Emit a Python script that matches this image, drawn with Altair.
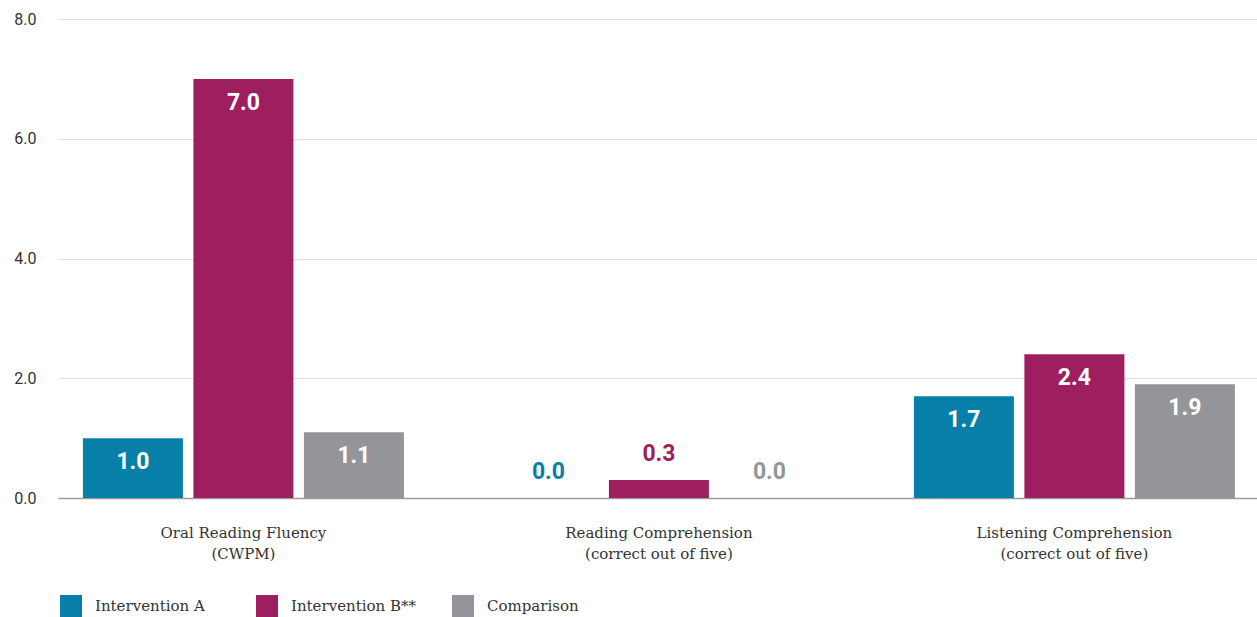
import altair as alt
import pandas as pd

categories = [
    "Oral Reading Fluency\n(CWPM)",
    "Reading Comprehension\n(correct out of five)",
    "Listening Comprehension\n(correct out of five)",
]
series = ["Intervention A", "Intervention B**", "Comparison"]
values_a = [1.0, 0.0, 1.7]
values_b = [7.0, 0.3, 2.4]
values_c = [1.1, 0.0, 1.9]
colors = ["#077fa8", "#9e1f5f", "#939598"]
y_ticks = [0, 2, 4, 6, 8]

rows = []
for s, vals in zip(series, [values_a, values_b, values_c]):
    for c, v in zip(categories, vals):
        rows.append({"category": c, "series": s, "value": v})
df = pd.DataFrame(rows)

x_enc = alt.X(
    "category:N",
    sort=categories,
    scale=alt.Scale(paddingInner=0.2274, paddingOuter=0.0566, align=0.53),
    axis=alt.Axis(
        title=None,
        labelAngle=0,
        labelExpr="split(datum.label, '\\n')",
        labelFont="DejaVu Serif",
        labelFontSize=15,
        labelColor="#333333",
        labelPadding=27,
        labelLineHeight=21,
        labelLimit=400,
        ticks=False,
        domainColor="#9a9a9a",
        domainWidth=1.5,
        grid=False,
    ),
)
xoff = alt.XOffset("series:N", sort=series, scale=alt.Scale(paddingInner=0.095, paddingOuter=0))
y_enc = alt.Y(
    "value:Q",
    scale=alt.Scale(domain=[0, 8], nice=False),
    axis=alt.Axis(
        title=None,
        values=y_ticks,
        format=".1f",
        labelFont="Roboto",
        labelFontSize=16,
        labelColor="#333333",
        labelPadding=22,
        ticks=False,
        domain=False,
        gridColor="#dddddd",
        gridWidth=1,
    ),
)
color_enc = alt.Color(
    "series:N",
    sort=series,
    scale=alt.Scale(domain=series, range=colors),
    legend=alt.Legend(
        title=None,
        orient="none",
        legendX=2,
        legendY=576,
        direction="horizontal",
        columns=3,
        columnPadding=36,
        symbolType="square",
        symbolSize=484,
        symbolStrokeWidth=0,
        symbolOpacity=1,
        labelFont="DejaVu Serif",
        labelFontSize=15,
        labelColor="#333333",
        labelOffset=13,
        labelLimit=300,
        gridAlign="all",
    ),
)

base = alt.Chart(df)
bars = base.mark_bar().encode(x=x_enc, xOffset=xoff, y=y_enc, color=color_enc)

inside = base.transform_filter("datum.value >= 0.5").mark_text(
    font="Roboto", fontSize=23, fontWeight="bold", color="white", baseline="middle", dy=24
).encode(x=alt.X("category:N", sort=categories), xOffset=xoff, y="value:Q", text=alt.Text("value:Q", format=".1f"))

outside = base.transform_filter("datum.value < 0.5").mark_text(
    font="Roboto", fontSize=23, fontWeight="bold", baseline="middle", dy=-26
).encode(
    x=alt.X("category:N", sort=categories),
    xOffset=xoff,
    y="value:Q",
    text=alt.Text("value:Q", format=".1f"),
    color=alt.Color("series:N", sort=series, scale=alt.Scale(domain=series, range=colors), legend=None),
)

chart = (
    alt.layer(bars, inside, outside)
    .properties(
        width=1199,
        height=479,
        autosize=alt.AutoSizeParams(type="none"),
        padding={"left": 58, "top": 19, "right": 0, "bottom": 119},
    )
    .configure_view(stroke=None)
)

chart.save("out.html", embed_options={"renderer": "svg", "actions": False})
